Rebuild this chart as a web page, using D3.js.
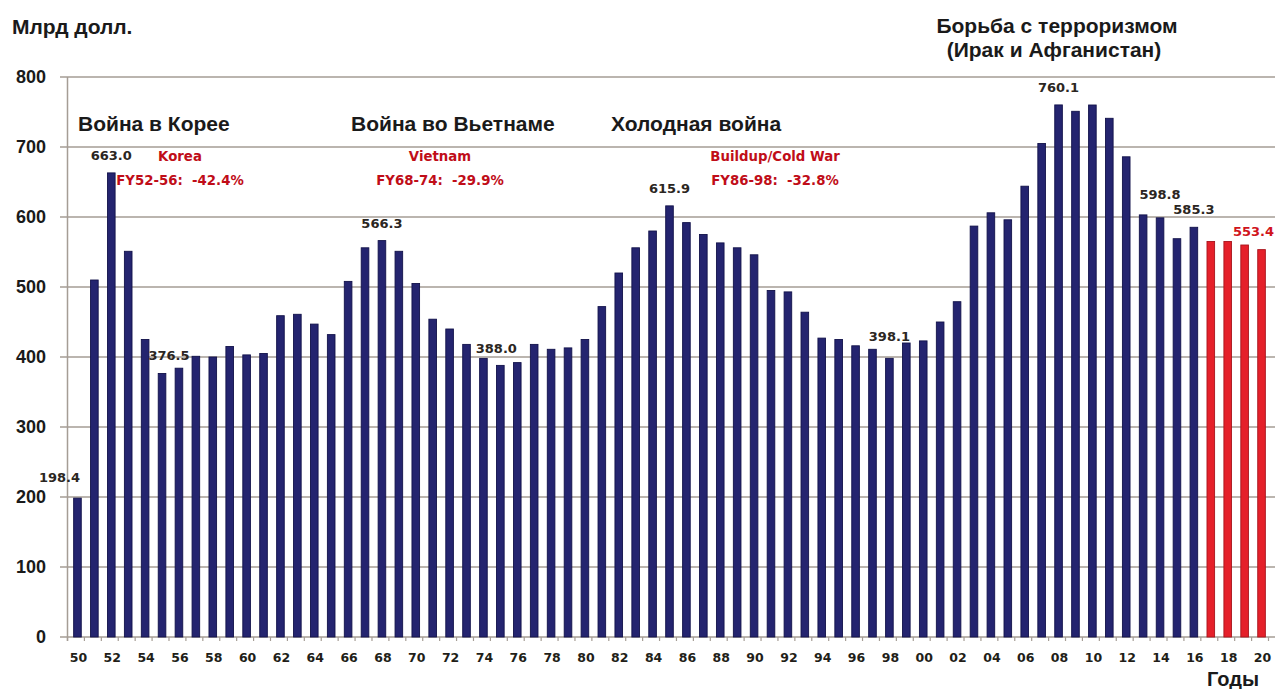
<!DOCTYPE html>
<meta charset="utf-8">
<script src="https://d3js.org/d3.v7.min.js"></script>
<style>
body { margin: 0; background: #fff; }
.big { font-family: "Liberation Sans", Arial, sans-serif; font-weight: bold; fill: #1a1a1a; }
.small { font-family: "DejaVu Sans", Verdana, sans-serif; font-weight: bold; }
</style>
<body>
<div id="chart"></div>
<script>

// fiscal years shown on the x axis
const years = [1950,1951,1952,1953,1954,1955,1956,1957,1958,1959,
  1960,1961,1962,1963,1964,1965,1966,1967,1968,1969,
  1970,1971,1972,1973,1974,1975,1976,1977,1978,1979,
  1980,1981,1982,1983,1984,1985,1986,1987,1988,1989,
  1990,1991,1992,1993,1994,1995,1996,1997,1998,1999,
  2000,2001,2002,2003,2004,2005,2006,2007,2008,2009,
  2010,2011,2012,2013,2014,2015,2016,2017,2018,2019,2020];

// spending, billions of dollars
const spending = [198.4,510,663.0,551,425,376.5,384,401,400,415,
  403,405,459,461,447,432,508,556,566.3,551,
  505,454,440,418,398,388.0,392,418,411,413,
  425,472,520,556,580,615.9,592,575,563,556,
  546,495,493,464,427,425,416,411,398.1,420,
  423,450,479,587,606,596,644,705,760.1,751,
  760,741,686,603,598.8,569,585.3,565,565,560,553.4];

// first year drawn as a projection (red)
const projectionFrom = 2017;

// years carrying a value label
const labelledYears = [1950,1952,1955,1968,1975,1985,1998,2008,2014,2016,2020];

const yTicks = [0,100,200,300,400,500,600,700,800];
const xTickYears = years.filter(d => d % 2 === 0);

const warTitles = ["Война в Корее", "Война во Вьетнаме", "Холодная война"];
const warNotes = [
  ["Korea", "FY52-56:  -42.4%"],
  ["Vietnam", "FY68-74:  -29.9%"],
  ["Buildup/Cold War", "FY86-98:  -32.8%"]
];

const width = 1275, height = 689;

const svg = d3.select("#chart").append("svg")
    .attr("width", width)
    .attr("height", height);

const x = d3.scaleBand()
    .domain(years)
    .range([69, 1270])
    .paddingInner(0.55)
    .paddingOuter(0.275);

const y = d3.scaleLinear()
    .domain([0, 800])
    .range([637, 77]);

const data = years.map((d, i) => ({year: d, value: spending[i]}));

// gridlines
svg.append("g")
  .selectAll("line")
  .data(yTicks)
  .join("line")
    .attr("x1", 60)
    .attr("x2", width)
    .attr("y1", d => y(d))
    .attr("y2", d => y(d))
    .attr("stroke", "#a59d95")
    .attr("stroke-width", 1.5);

// vertical axis line
svg.append("line")
    .attr("x1", 67.5).attr("x2", 67.5)
    .attr("y1", y(800)).attr("y2", y(0) + 4)
    .attr("stroke", "#a59d95")
    .attr("stroke-width", 1.5);

// small ticks between categories
const step = x.step();
svg.append("g")
  .selectAll("line")
  .data(years.concat([2021]))
  .join("line")
    .attr("x1", d => 69 + (d - 1950) * step - 1.5)
    .attr("x2", d => 69 + (d - 1950) * step - 1.5)
    .attr("y1", y(0))
    .attr("y2", y(0) + 4)
    .attr("stroke", "#a59d95")
    .attr("stroke-width", 1.2);

// bars
svg.append("g")
  .selectAll("rect")
  .data(data)
  .join("rect")
    .attr("x", d => x(d.year))
    .attr("y", d => y(d.value))
    .attr("width", x.bandwidth())
    .attr("height", d => y(0) - y(d.value))
    .attr("fill", d => d.year >= projectionFrom ? "#e5202a" : "#24246f")
    .attr("stroke", d => d.year >= projectionFrom ? "#a8141c" : "#12124a")
    .attr("stroke-width", 0.9);

// y axis labels
const yAxis = svg.append("g")
    .attr("transform", "translate(46,0)")
    .call(d3.axisLeft(y).tickValues(yTicks).tickSize(0).tickPadding(0));
yAxis.select(".domain").remove();
yAxis.selectAll("text")
    .attr("class", "big")
    .style("font-size", "18px")
    .attr("fill", "#111");

// x axis labels
const xAxis = svg.append("g")
    .attr("transform", `translate(0,${y(0)})`)
    .call(d3.axisBottom(x).tickValues(xTickYears).tickSize(0).tickPadding(16)
      .tickFormat(d => String(d).slice(2)));
xAxis.select(".domain").remove();
xAxis.selectAll("text")
    .attr("class", "small")
    .attr("dx", 1)
    .style("font-size", "12.5px")
    .attr("fill", "#221e18");

// value labels
const labelShift = {1950: [-18, 16], 1955: [7, 13], 1975: [-4, 12], 1998: [0, 17], 2014: [0, 19], 2020: [-8, 14]};
svg.append("g")
  .selectAll("text")
  .data(data.filter(d => labelledYears.includes(d.year)))
  .join("text")
    .attr("class", "small")
    .attr("text-anchor", "middle")
    .attr("x", d => x(d.year) + x.bandwidth() / 2 + (labelShift[d.year] ? labelShift[d.year][0] : 0))
    .attr("y", d => y(d.value) - (labelShift[d.year] ? labelShift[d.year][1] : 13))
    .style("font-size", "13px")
    .attr("fill", d => d.year >= projectionFrom ? "#d0141c" : "#2b2622")
    .text(d => d.value.toFixed(1));

// war titles
const titleX = [78, 351, 611];
svg.append("g")
  .selectAll("text")
  .data(warTitles)
  .join("text")
    .attr("class", "big")
    .attr("x", (d, i) => titleX[i])
    .attr("y", 131)
    .style("font-size", "21px")
    .text(d => d);

// red notes
const noteX = [180, 440, 775];
const notes = svg.append("g")
  .selectAll("text")
  .data(warNotes)
  .join("text")
    .attr("class", "small")
    .attr("text-anchor", "middle")
    .attr("x", (d, i) => noteX[i])
    .attr("y", 161)
    .style("font-size", "13.3px")
    .attr("fill", "#c00d18");
notes.append("tspan").text(d => d[0]);
notes.append("tspan")
    .attr("x", (d, i) => noteX[i])
    .attr("dy", 24)
    .attr("xml:space", "preserve")
    .style("white-space", "pre")
    .text(d => d[1]);

// headers
svg.append("text")
    .attr("class", "big")
    .attr("x", 12).attr("y", 34)
    .style("font-size", "21px")
    .text("Млрд долл.");

svg.append("text")
    .attr("class", "big")
    .attr("text-anchor", "middle")
    .attr("x", 1057).attr("y", 33)
    .style("font-size", "21px")
    .text("Борьба с терроризмом");

svg.append("text")
    .attr("class", "big")
    .attr("text-anchor", "middle")
    .attr("x", 1054).attr("y", 57)
    .style("font-size", "21px")
    .text("(Ирак и Афганистан)");

svg.append("text")
    .attr("class", "big")
    .attr("x", 1207).attr("y", 686)
    .style("font-size", "20px")
    .text("Годы");

</script>
</body>
